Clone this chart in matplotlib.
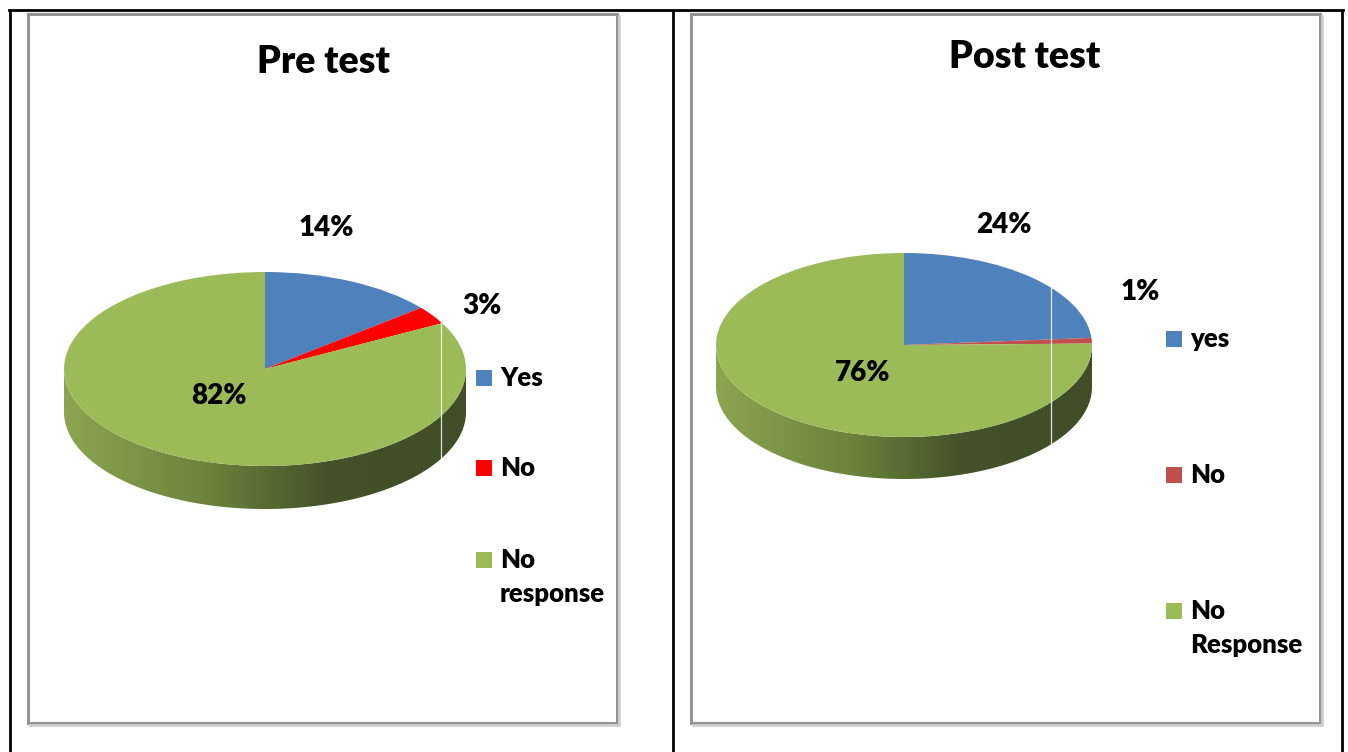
import numpy as np
import matplotlib
matplotlib.use("Agg")
import matplotlib.pyplot as plt
from matplotlib.patches import Polygon, Rectangle
from matplotlib.colors import LinearSegmentedColormap

plt.rcParams['font.family'] = ['Lato', 'DejaVu Sans']

W, H = 1348, 752
WEIGHT = 'heavy'

# data
pre_labels = ['Yes', 'No', 'No\nresponse']
pre_values = [14, 3, 82]
pre_colors = ['#4F81BD', '#FF0000', '#9BBB59']

post_labels = ['yes', 'No', 'No\nResponse']
post_values = [24, 1, 76]
post_colors = ['#4F81BD', '#C0504D', '#9BBB59']

fig = plt.figure(figsize=(W / 100, H / 100), dpi=100)
bg = fig.add_axes([0, 0, 1, 1])
bg.set_xlim(0, W)
bg.set_ylim(H, 0)
bg.axis('off')

# table lines
for x in [10, 673, 1342]:
    bg.plot([x, x], [10, H], color='black', lw=2, solid_capstyle='butt')
bg.plot([9, 1343], [10, 10], color='black', lw=2)

# chart boxes (with a light shadow at the bottom/right)
for x0, x1 in [(28, 617), (691, 1320)]:
    bg.plot([x0 + 2, x1 + 2, x1 + 2], [725, 725, 16], color='#cfcfcf', lw=2)
    bg.add_patch(Rectangle((x0, 14), x1 - x0, 723 - 14, fill=False,
                           ec='#939393', lw=2.2))

side_cmap = LinearSegmentedColormap.from_list(
    'side', [(0.0, '#8ca550'), (0.35, '#6c843c'), (0.65, '#44532a'),
             (1.0, '#404d26')])


def draw_pie(cx, cy, rx, ry, depth, values, colors, seam):
    d = depth / ry
    ax = fig.add_axes([(cx - 1.2 * rx) / W, 1 - (cy + (1.2 + d) * ry) / H,
                       2.4 * rx / W, (2.4 + d) * ry / H])
    t = np.linspace(np.pi, 2 * np.pi, 300)
    xs = np.cos(t)
    ys = np.sin(t)
    verts = np.vstack([np.column_stack([xs, ys]),
                       np.column_stack([xs[::-1], ys[::-1] - d])])
    side = Polygon(verts, closed=True, fc='none', ec='none')
    ax.add_patch(side)
    grad = np.linspace(0, 1, 256).reshape(1, -1)
    im = ax.imshow(grad, cmap=side_cmap, extent=(-1, 1, -1 - d, 0),
                   aspect='auto', zorder=1)
    im.set_clip_path(side)
    ax.pie(values, colors=colors, startangle=90, counterclock=False,
           radius=1, wedgeprops=dict(zorder=2, lw=0))
    # seam artefact of the 3d rendering
    h = np.sqrt(1 - seam ** 2)
    ax.plot([seam, seam], [h, -h - d], color='white', lw=0.9, alpha=0.85,
            zorder=3)
    ax.set_aspect('auto')
    ax.set_xlim(-1.2, 1.2)
    ax.set_ylim(-1.2 - d, 1.2)
    ax.axis('off')
    return ax


draw_pie(265, 369, 201, 97, 43, pre_values, pre_colors, 0.876)
draw_pie(904, 345, 188, 92, 42, post_values, post_colors, 0.78)

# overlay for texts, above the pies
top = fig.add_axes([0, 0, 1, 1])
top.set_xlim(0, W)
top.set_ylim(H, 0)
top.axis('off')

# titles
top.text(323, 62, 'Pre test', ha='center', va='center', fontsize=27,
         fontweight=WEIGHT)
top.text(1025, 57, 'Post test', ha='center', va='center', fontsize=27,
         fontweight=WEIGHT)

# data labels
pre_pos = [(326, 228), (482, 306), (219, 396)]
post_pos = [(1004, 225), (1140, 292), (863, 373)]
for vals, pos in [(pre_values, pre_pos), (post_values, post_pos)]:
    for v, (x, y) in zip(vals, pos):
        top.text(x, y, f'{v}%', ha='center', va='center', fontsize=20,
                 fontweight=WEIGHT)


def legend(x, rows, labels, colors):
    for y, lab, c in zip(rows, labels, colors):
        top.add_patch(Rectangle((x, y - 8), 16, 16, fc=c, ec='none'))
        for i, line in enumerate(lab.split('\n')):
            top.text(x + 24, y + i * 34, line, ha='left', va='center',
                     fontsize=18.5, fontweight=WEIGHT)


legend(476, [378, 468, 560], pre_labels, pre_colors)
legend(1166, [339, 475, 611], post_labels, post_colors)

fig.savefig('out.png', dpi=100)
